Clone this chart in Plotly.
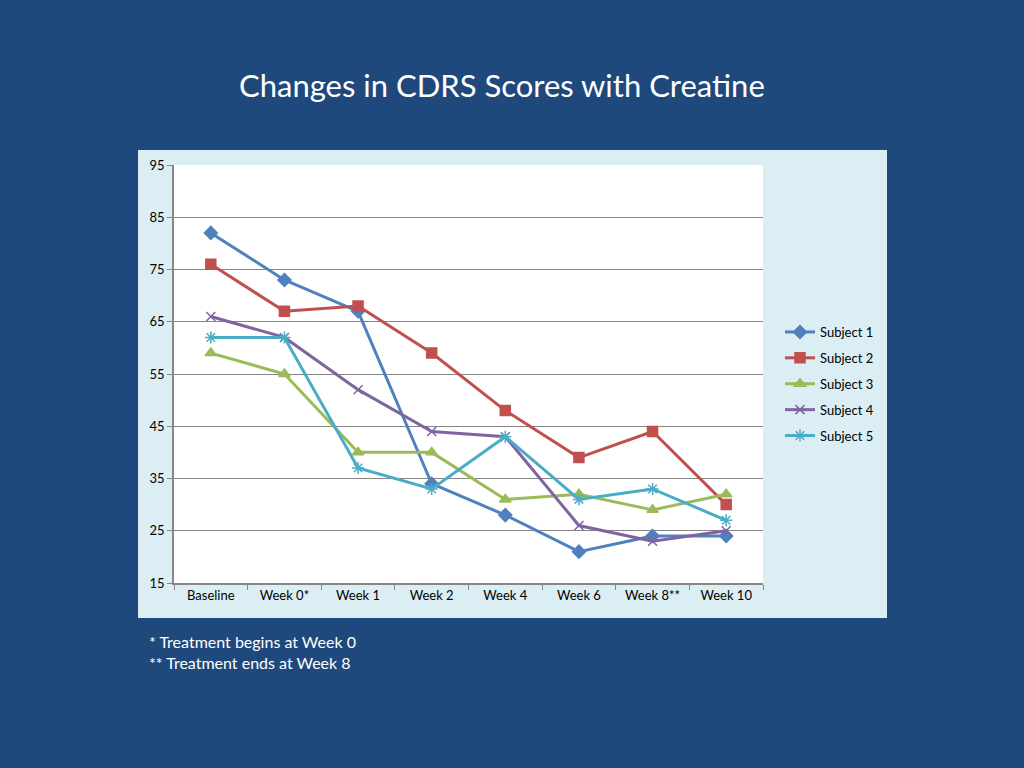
import plotly.graph_objects as go

categories = ["Baseline", "Week 0*", "Week 1", "Week 2", "Week 4", "Week 6", "Week 8**", "Week 10"]
subject1 = [82, 73, 67, 34, 28, 21, 24, 24]
subject2 = [76, 67, 68, 59, 48, 39, 44, 30]
subject3 = [59, 55, 40, 40, 31, 32, 29, 32]
subject4 = [66, 62, 52, 44, 43, 26, 23, 25]
subject5 = [62, 62, 37, 33, 43, 31, 33, 27]
y_ticks = [15, 25, 35, 45, 55, 65, 75, 85, 95]

series = [
    ("Subject 1", subject1, "#4F81BD", "diamond", 10),
    ("Subject 2", subject2, "#C0504D", "square", 10),
    ("Subject 3", subject3, "#9BBB59", "triangle-up", 10),
    ("Subject 4", subject4, "#8064A2", "x-thin-open", 9),
    ("Subject 5", subject5, "#4BACC6", "asterisk-open", 10),
]

FONT = "Lato, 'Open Sans', sans-serif"

# Plot area in pixels
L, R, T, B = 174, 763, 165, 583
W, H = 1024, 768


def px(x):
    return (x - L) / (R - L)


def py(y):
    return (B - y) / (B - T)


fig = go.Figure()
for i, (name, vals, color, sym, size) in enumerate(series):
    fig.add_trace(go.Scatter(
        x=categories, y=vals, name=name, mode="lines+markers",
        legendgroup=f"g{i}",
        line=dict(color=color, width=3),
        marker=dict(symbol=sym, size=size, color=color,
                    line=dict(color=color, width=1.5)),
    ))

fig.update_layout(
    width=W, height=H,
    margin=dict(l=L, r=W - R, t=T, b=H - B, pad=0),
    paper_bgcolor="#1F497D",
    plot_bgcolor="white",
    font=dict(family=FONT, size=13, color="#000000"),
    showlegend=True,
    legend=dict(
        x=px(780), y=py(317), xanchor="left", yanchor="top",
        bgcolor="rgba(0,0,0,0)", font=dict(size=13, color="#000000"),
        tracegroupgap=6, itemwidth=30,
    ),
    xaxis=dict(
        type="category", showgrid=False, showline=True, linecolor="#868686",
        linewidth=1.5, ticks="outside", tickson="boundaries", ticklen=5,
        tickcolor="#868686", tickfont=dict(size=13, color="#000000"),
        range=[-0.5, len(categories) - 0.5],
    ),
    yaxis=dict(
        range=[15, 95], tickvals=y_ticks, showgrid=True, gridcolor="#868686",
        gridwidth=1, showline=True, linecolor="#868686", linewidth=1.5,
        ticks="outside", ticklen=5, tickcolor="#868686", zeroline=False,
        tickfont=dict(size=13, color="#000000"),
    ),
    shapes=[
        dict(type="rect", xref="paper", yref="paper", layer="below",
             x0=px(138), x1=px(887), y0=py(618), y1=py(150),
             fillcolor="#DBEEF4", line=dict(width=0)),
        dict(type="rect", xref="paper", yref="paper", layer="below",
             x0=0, x1=1, y0=0, y1=1,
             fillcolor="white", line=dict(width=0)),
    ],
    annotations=[
        dict(text="Changes in CDRS Scores with Creatine", xref="paper", yref="paper",
             x=px(502), y=py(85), xanchor="center", yanchor="middle", showarrow=False,
             font=dict(family=FONT, size=31, color="white")),
        dict(text="* Treatment begins at Week 0", xref="paper", yref="paper",
             x=px(147), y=py(641), xanchor="left", yanchor="middle", showarrow=False,
             font=dict(family=FONT, size=16, color="white")),
        dict(text="** Treatment ends at Week 8", xref="paper", yref="paper",
             x=px(147), y=py(662), xanchor="left", yanchor="middle", showarrow=False,
             font=dict(family=FONT, size=16, color="white")),
    ],
)

fig.write_html(
    "out.html",
    config={"displayModeBar": False},
    post_script="document.body.style.margin='0px';document.body.style.background='#1F497D';",
)
